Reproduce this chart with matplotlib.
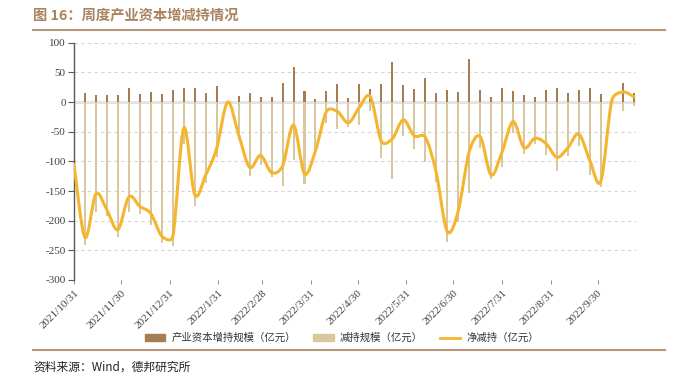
import matplotlib
matplotlib.use("Agg")
import matplotlib.pyplot as plt
import matplotlib.dates as mdates
from matplotlib.path import Path
from matplotlib.patches import PathPatch, Patch
from matplotlib.lines import Line2D
import numpy as np
import pandas as pd

plt.rcParams['font.family'] = ['Noto Sans CJK SC', 'DejaVu Sans']

# weekly data, from 2021/10/31
weeks = pd.date_range("2021-10-31", periods=52, freq="7D")

# 产业资本增持规模（亿元）
increase = [22.5, 14.6, 11.8, 11.2, 11.8, 23, 12.9, 17.4, 14, 20,
            24, 23, 14.6, 27, 0, 10, 14.6, 9, 7.9, 32.6,
            59.6, 19, 5.6, 18.5, 30, 6, 30, 22.5, 31, 68,
            28, 22.5, 41, 16, 20, 17, 72, 20, 8.4, 24,
            18.5, 11.8, 8.4, 20, 24, 14.6, 20, 24, 13, 0,
            32.6, 16]

# 减持规模（亿元）
decrease = [-127, -241, -185, -192, -227, -185, -189, -208, -238, -242,
            -70, -175, -136, -92, 0, -64, -124, -106, -126, -141,
            -98, -139, -86, -36, -45, -42, -39, -15, -95, -130,
            -58, -79, -101, -134, -236, -202, -153, -78, -130, -109,
            -52, -88, -70, -89, -117, -91, -74, -123, -143, 0,
            -15, -6]

# 净减持（亿元）
net = [-105, -228, -155, -182, -215, -160, -176, -188, -226, -227,
       -44, -156, -123, -78, 0, -55, -110, -90, -119, -108,
       -39, -121, -82, -16, -16, -35, -9, 9, -66, -62,
       -30, -57, -59, -119, -218, -184, -84, -58, -123, -84,
       -33, -77, -61, -70, -93, -77, -54, -99, -133, 3,
       17, 9]

tick_labels = ["2021/10/31", "2021/11/30", "2021/12/31", "2022/1/31", "2022/2/28",
               "2022/3/31", "2022/4/30", "2022/5/31", "2022/6/30", "2022/7/31",
               "2022/8/31", "2022/9/30"]

c_inc = "#a67c52"
c_dec = "#d9c79e"
c_net = "#f5b52e"
c_title = "#a9825f"

fig = plt.figure(figsize=(6.75, 3.77), dpi=100)
ax = fig.add_axes([0.1096, 0.2573, 0.8324, 0.6294])

x = mdates.date2num(weeks)
ax.set_xlim(x[0], x[-1] + 1.3)
ax.set_ylim(-300, 100)

# grid and zero line
for v in range(-300, 101, 50):
    if v == 0:
        continue
    ax.axhline(v, color="#d4d4d4", lw=0.8, ls=(0, (3, 3)), zorder=0)
ax.axhline(0, color="#e4e4e4", lw=2.2, zorder=1)

ax.bar(x, decrease, width=1.3, color=c_dec, zorder=2)
ax.bar(x, increase, width=1.3, color=c_inc, zorder=2)

# smoothed net line: bezier segments, control offsets capped at half the
# segment length in screen space (like the excel smooth line)
pts = np.column_stack([x, net]).astype(float)
scr = ax.transData.transform(pts)
inv = ax.transData.inverted()
n = len(pts)

verts = [tuple(pts[0])]
codes = [Path.MOVETO]
for i in range(n - 1):
    a = i - 1 if i > 0 else i
    d = i + 2 if i + 2 < n else i + 1
    seg = np.hypot(*(scr[i + 1] - scr[i]))
    d02 = np.hypot(*(scr[i + 1] - scr[a]))
    d13 = np.hypot(*(scr[d] - scr[i]))
    f1 = 1 / 6 if d02 / 6 < seg / 2 or d02 == 0 else seg / 2 / d02
    f2 = 1 / 6 if d13 / 6 < seg / 2 or d13 == 0 else seg / 2 / d13
    c1 = scr[i] + (scr[i + 1] - scr[a]) * f1
    c2 = scr[i + 1] - (scr[d] - scr[i]) * f2
    verts += [tuple(inv.transform(c1)), tuple(inv.transform(c2)), tuple(pts[i + 1])]
    codes += [Path.CURVE4] * 3
ax.add_patch(PathPatch(Path(verts, codes), fill=False, edgecolor=c_net,
                       lw=2.2, zorder=3, capstyle="round", joinstyle="round"))

ax.set_yticks(range(-300, 101, 50))
ax.set_yticklabels([str(v) for v in range(-300, 101, 50)],
                   family="Liberation Serif", fontsize=8, color="#404040")

tick_pos = mdates.date2num(pd.to_datetime(tick_labels, format="%Y/%m/%d"))
ax.set_xticks(tick_pos)
ax.set_xticklabels(tick_labels, rotation=45, ha="right", rotation_mode="anchor",
                   family="Liberation Serif", fontsize=8, color="#404040")

for s in ["top", "right", "bottom"]:
    ax.spines[s].set_visible(False)
ax.spines["left"].set_color("#595959")
ax.spines["left"].set_linewidth(1)
ax.tick_params(axis="y", length=4, width=0.8, color="#595959", pad=2)
ax.tick_params(axis="x", length=3, width=0.6, color="#808080", pad=3)

# title and rules
fig.text(33 / 675, 1 - 15 / 377, "图 16：周度产业资本增减持情况", fontsize=10.3,
         fontweight="bold", color=c_title, va="center", ha="left")
fig.add_artist(Line2D([33 / 675, 665 / 675], [1 - 30 / 377] * 2, color="#b8987c", lw=1.5))
fig.add_artist(Line2D([33 / 675, 665 / 675], [1 - 350 / 377] * 2, color="#b8987c", lw=1.5))
fig.text(33 / 675, 1 - 367 / 377, "资料来源：Wind，德邦研究所", fontsize=8.5,
         color="#222222", va="center", ha="left")

handles = [Patch(color=c_inc), Patch(color=c_dec), Line2D([], [], color=c_net, lw=2)]
labels = ["产业资本增持规模（亿元）", "减持规模（亿元）", "净减持（亿元）"]
fig.legend(handles, labels, loc="center", bbox_to_anchor=(342 / 675, 1 - 338 / 377),
           ncol=3, frameon=False, fontsize=7.5, handlelength=2.0, handleheight=0.6,
           handletextpad=0.6, columnspacing=1.6, labelcolor="#333333")

fig.savefig("out.png", dpi=100)
